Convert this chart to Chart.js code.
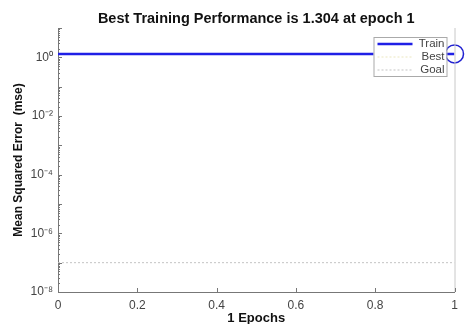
<!DOCTYPE html>
<html>
<head>
<meta charset="utf-8">
<script src="https://cdn.jsdelivr.net/npm/chart.js@4.4.1/dist/chart.umd.min.js"></script>
<style>
  html, body { margin: 0; padding: 0; background: #fff; }
  #wrap { width: 465px; height: 324px; }
</style>
</head>
<body>
<div id="wrap"><canvas id="perf"></canvas></div>
<script>
// Performance data
const epochs = [0, 1];
const trainPerf = [1.304, 1.304];
const bestEpoch = 1;
const bestPerf = 1.304;
const goalPerf = [1e-7, 1e-7];
const xTicks = [0, 0.2, 0.4, 0.6, 0.8, 1];
const yTicks = [1e-8, 1e-6, 1e-4, 1e-2, 1];
const supDigits = { '-': '⁻', '0': '⁰', '1': '¹', '2': '²', '3': '³', '4': '⁴', '5': '⁵', '6': '⁶', '7': '⁷', '8': '⁸', '9': '⁹' };

const titleText = 'Best Training Performance is ' + bestPerf + ' at epoch ' + bestEpoch;

function pow10Label(v) {
    const e = String(Math.round(Math.log10(v)));
    return '10' + e.split('').map(c => supDigits[c]).join('');
}

// title, legend box, right border and inward ticks (MATLAB look)
const matlabDecor = {
    id: 'matlabDecor',
    afterDraw(chart) {
        const ctx = chart.ctx;
        const area = chart.chartArea;
        const xs = chart.scales.x, ys = chart.scales.y;
        ctx.save();

        // title
        ctx.fillStyle = '#111';
        ctx.font = 'bold 14.5px "Liberation Sans", Arial, sans-serif';
        ctx.textAlign = 'center';
        ctx.textBaseline = 'middle';
        ctx.fillText(titleText, (area.left + area.right) / 2, 19);

        // right border
        ctx.strokeStyle = '#c8c8c8';
        ctx.lineWidth = 1;
        ctx.beginPath();
        ctx.moveTo(area.right + 0.5, area.top);
        ctx.lineTo(area.right + 0.5, area.bottom);
        ctx.stroke();

        // inward ticks
        ctx.strokeStyle = '#777';
        ctx.beginPath();
        xTicks.forEach(v => {
            const px = Math.round(xs.getPixelForValue(v)) + 0.5;
            ctx.moveTo(px, area.bottom);
            ctx.lineTo(px, area.bottom - 4);
        });
        for (let e = -8; e <= 1; e++) {
            for (let m = 1; m < 10; m++) {
                const v = m * Math.pow(10, e);
                if (v < 1e-8 || v > 10) continue;
                const py = Math.round(ys.getPixelForValue(v)) + 0.5;
                const len = m === 1 ? 4 : 2;
                ctx.moveTo(area.left, py);
                ctx.lineTo(area.left + len, py);
            }
        }
        ctx.stroke();

        // legend
        const bx = area.right - 81, by = area.top + 9, bw = 73, bh = 39;
        ctx.fillStyle = '#fff';
        ctx.fillRect(bx, by, bw, bh);
        ctx.strokeStyle = '#aaa';
        ctx.strokeRect(bx + 0.5, by + 0.5, bw, bh);
        const items = chart.data.datasets.filter(d => d.inLegend);
        ctx.font = '11.5px "Liberation Sans", Arial, sans-serif';
        ctx.textAlign = 'right';
        items.forEach((d, i) => {
            const yy = by + 7 + i * 13;
            ctx.strokeStyle = d.borderColor;
            ctx.lineWidth = d.borderWidth;
            ctx.setLineDash(d.borderDash || []);
            ctx.beginPath();
            ctx.moveTo(bx + 4, yy);
            ctx.lineTo(bx + 39, yy);
            ctx.stroke();
            ctx.setLineDash([]);
            ctx.fillStyle = '#444';
            ctx.fillText(d.label, bx + bw - 2, yy);
        });
        ctx.restore();
    }
};

const ctx = document.getElementById('perf');
new Chart(ctx, {
    type: 'line',
    data: {
        datasets: [
            {
                label: 'Train',
                inLegend: true,
                data: epochs.map((e, i) => ({ x: e, y: trainPerf[i] })),
                borderColor: '#1f1fe6',
                borderWidth: 2.5,
                pointRadius: 0
            },
            {
                label: 'Best',
                inLegend: true,
                data: epochs.map(e => ({ x: e, y: bestPerf })),
                borderColor: '#ece8bf',
                borderWidth: 1,
                borderDash: [2, 2],
                pointRadius: 0
            },
            {
                label: 'Goal',
                inLegend: true,
                data: epochs.map((e, i) => ({ x: e, y: goalPerf[i] })),
                borderColor: '#c4c4c4',
                borderWidth: 1,
                borderDash: [2, 2],
                pointRadius: 0
            },
            {
                label: 'Best point',
                inLegend: false,
                data: [{ x: bestEpoch, y: bestPerf }],
                showLine: false,
                pointRadius: 9,
                pointBorderWidth: 1.5,
                pointBorderColor: '#2020d0',
                pointBackgroundColor: 'rgba(0,0,0,0)',
                clip: false
            }
        ]
    },
    options: {
        responsive: true,
        maintainAspectRatio: false,
        animation: false,
        layout: { padding: { top: 28, right: 10, left: 0, bottom: 0 } },
        plugins: {
            legend: { display: false },
            title: { display: false },
            tooltip: { enabled: false }
        },
        scales: {
            x: {
                type: 'linear',
                min: 0,
                max: 1,
                afterBuildTicks: s => { s.ticks = xTicks.map(v => ({ value: v })); },
                afterFit: s => { s.height = 32; },
                ticks: {
                    color: '#444',
                    font: { size: 12, family: '"Liberation Sans", Arial, sans-serif' },
                    padding: 6,
                    maxRotation: 0,
                    callback: v => String(Math.round(v * 10) / 10)
                },
                grid: { display: true, drawOnChartArea: false, drawTicks: false },
                border: { display: true, color: '#777', width: 1 },
                title: {
                    display: true,
                    text: '1 Epochs',
                    color: '#111',
                    font: { size: 13, weight: 'bold', family: '"Liberation Sans", Arial, sans-serif' },
                    padding: { top: 0, bottom: -2 }
                }
            },
            y: {
                type: 'logarithmic',
                min: 1e-8,
                max: 10,
                afterBuildTicks: s => { s.ticks = yTicks.map(v => ({ value: v })); },
                afterFit: s => { s.width = 58; },
                ticks: {
                    color: '#444',
                    font: { size: 12, family: '"Liberation Sans", Arial, sans-serif' },
                    padding: 5,
                    callback: v => pow10Label(v)
                },
                grid: { display: true, drawOnChartArea: false, drawTicks: false },
                border: { display: true, color: '#777', width: 1 },
                title: {
                    display: true,
                    text: 'Mean Squared Error  (mse)',
                    color: '#111',
                    font: { size: 12, weight: 'bold', family: '"Liberation Sans", Arial, sans-serif' },
                    padding: { top: 11, bottom: 0 }
                }
            }
        }
    },
    plugins: [matlabDecor]
});
</script>
</body>
</html>
